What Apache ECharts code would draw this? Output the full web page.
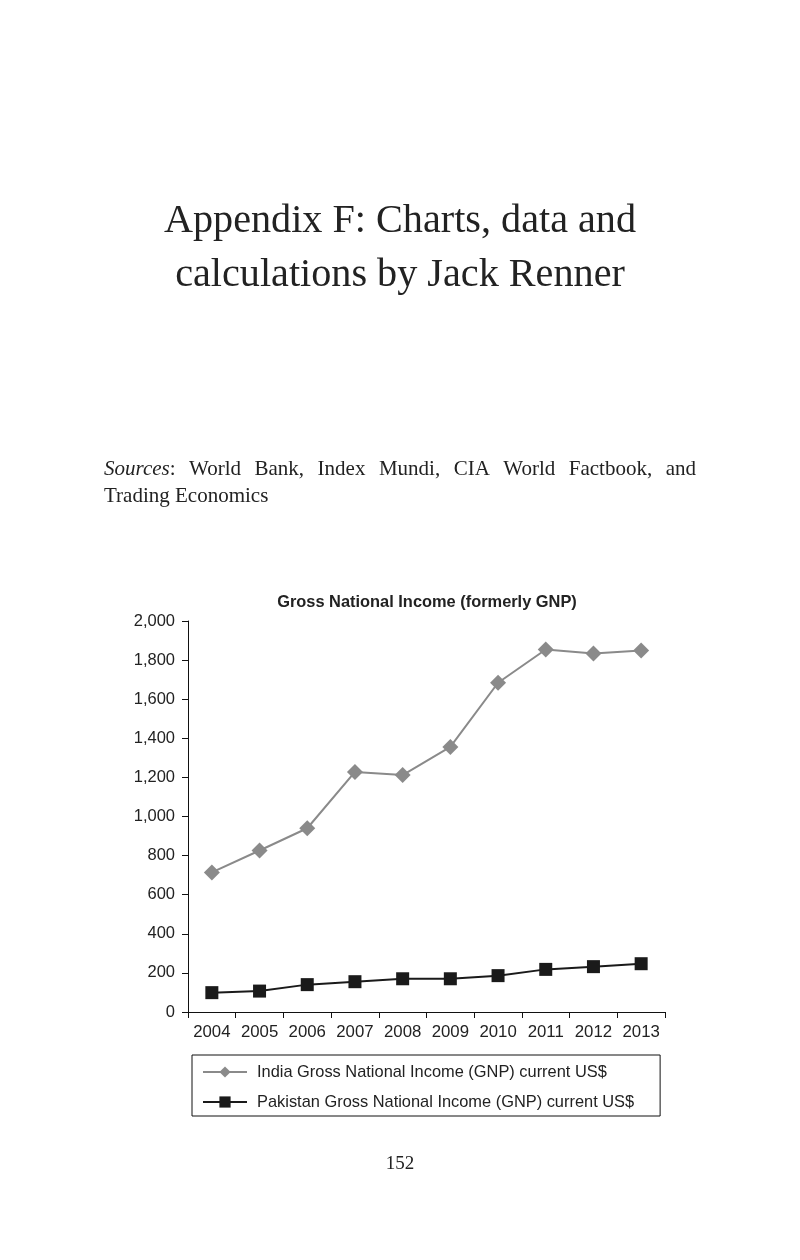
<!DOCTYPE html>
<html>
<head>
<meta charset="utf-8">
<script src="https://cdn.jsdelivr.net/npm/echarts@6/dist/echarts.min.js"></script>
<style>
html,body{margin:0;padding:0;background:#fff;}
#chart{width:800px;height:1260px;}
</style>
</head>
<body>
<div id="chart"></div>
<script>
const years = ['2004','2005','2006','2007','2008','2009','2010','2011','2012','2013'];
const indiaGNI = [714, 826, 940, 1228, 1212, 1356, 1684, 1854, 1834, 1849];
const pakistanGNI = [99, 107, 140, 155, 170, 170, 186, 218, 232, 247];
const yTicks = [0, 200, 400, 600, 800, 1000, 1200, 1400, 1600, 1800, 2000];
const indiaName = 'India Gross National Income (GNP) current US$';
const pakistanName = 'Pakistan Gross National Income (GNP) current US$';

const serif = '"Liberation Serif", "DejaVu Serif", serif';
const sans = '"Liberation Sans", Arial, sans-serif';

const cv = document.createElement('canvas').getContext('2d');
function measure(t, font){ cv.font = font; return cv.measureText(t).width; }

const graphics = [];
graphics.push({type:'text', left:'center', top:201, style:{text:'Appendix F: Charts, data and', font:'40.2px ' + serif, fill:'#222'}});
graphics.push({type:'text', left:'center', top:255, style:{text:'calculations by Jack Renner', font:'40.2px ' + serif, fill:'#222'}});

const srcSize = 21;
const srcFont = srcSize + 'px ' + serif;
const srcItal = 'italic ' + srcSize + 'px ' + serif;
const words = [['Sources', true, ':'], ['World'], ['Bank,'], ['Index'], ['Mundi,'], ['CIA'], ['World'], ['Factbook,'], ['and']];
const lx0 = 104, lx1 = 696;
let widths = words.map(w => w[1] ? measure(w[0], srcItal) + measure(w[2], srcFont) : measure(w[0], srcFont));
let total = widths.reduce((a,b)=>a+b,0);
let gap = (lx1 - lx0 - total) / (words.length - 1);
let cx = lx0;
words.forEach((w,i) => {
  if (w[1]) {
    graphics.push({type:'text', x:cx, y:459, style:{text:w[0], font:srcItal, fill:'#222'}});
    graphics.push({type:'text', x:cx + measure(w[0], srcItal), y:459, style:{text:w[2], font:srcFont, fill:'#222'}});
  } else {
    graphics.push({type:'text', x:cx, y:459, style:{text:w[0], font:srcFont, fill:'#222'}});
  }
  cx += widths[i] + gap;
});
graphics.push({type:'text', x:lx0, y:486, style:{text:'Trading Economics', font:srcFont, fill:'#222'}});
graphics.push({type:'text', left:'center', top:1155, style:{text:'152', font:'19px ' + serif, fill:'#222'}});

const chart = echarts.init(document.getElementById('chart'), null, {renderer:'canvas'});
chart.setOption({
  backgroundColor:'#fff',
  animation:false,
  title:{
    text:'Gross National Income (formerly GNP)',
    left:422, top:589, textAlign:'center',
    textStyle:{fontFamily:sans, fontSize:16.4, fontWeight:'bold', color:'#222'}
  },
  graphic: graphics,
  grid:{left:188, right:135, top:621, bottom:248, containLabel:false},
  xAxis:{
    type:'category', data:years, boundaryGap:true,
    axisLine:{lineStyle:{color:'#111', width:1}},
    axisTick:{show:true, length:6, interval:0, lineStyle:{color:'#111'}},
    axisLabel:{fontFamily:sans, fontSize:16.8, color:'#222', margin:12, interval:0},
    splitLine:{show:false}
  },
  yAxis:{
    type:'value', min:0, max:2000, interval:200,
    axisLine:{show:true, lineStyle:{color:'#111', width:1}},
    axisTick:{show:true, length:6, lineStyle:{color:'#111'}},
    axisLabel:{fontFamily:sans, fontSize:16.5, color:'#222', margin:13,
      formatter:v => v.toLocaleString('en-US')},
    splitLine:{show:false}
  },
  legend:{
    orient:'vertical', left:192, top:1055,
    padding:[9, 26, 6, 10],
    itemGap:14, itemWidth:44, itemHeight:14,
    borderColor:'#111', borderWidth:1,
    textStyle:{fontFamily:sans, fontSize:16.4, color:'#222', padding:[0,0,0,5]},
    data:[indiaName, pakistanName]
  },
  series:[
    {name:indiaName, type:'line', data:indiaGNI, symbol:'diamond', symbolSize:16,
     lineStyle:{color:'#8a8a8a', width:2}, itemStyle:{color:'#8a8a8a'}},
    {name:pakistanName, type:'line', data:pakistanGNI, symbol:'rect', symbolSize:13,
     lineStyle:{color:'#1a1a1a', width:2}, itemStyle:{color:'#1a1a1a'}}
  ]
});
</script>
</body>
</html>
